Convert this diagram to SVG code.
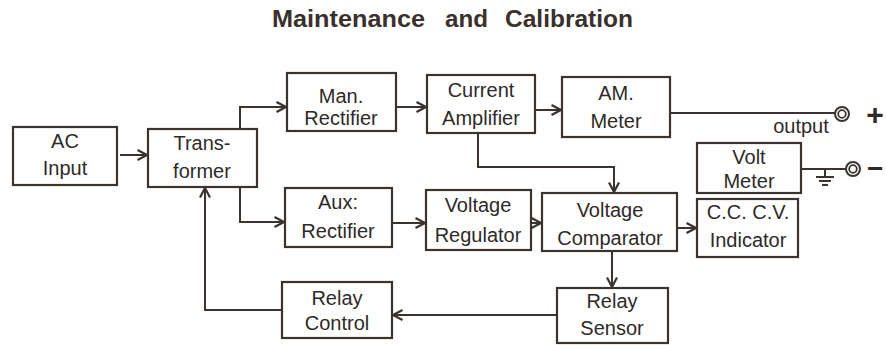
<svg xmlns="http://www.w3.org/2000/svg" width="886" height="345" viewBox="0 0 886 345">
  <style>
    .box { fill: none; stroke: #3b3330; stroke-width: 2.2; }
    .lbl { font-family: "Liberation Sans", Arial, sans-serif; font-size: 20px; fill: #2e2a28; text-anchor: middle; }
    .wire { fill: none; stroke: #3b3330; stroke-width: 2; }
    .arr { marker-end: url(#ah); }
    .title { font-family: "Liberation Sans", Arial, sans-serif; font-size: 24px; font-weight: bold; fill: #3a302c; }
    .sym { font-family: "Liberation Sans", Arial, sans-serif; font-weight: bold; fill: #2e2a28; }
  </style>
  <defs>
    <marker id="ah" markerUnits="userSpaceOnUse" markerWidth="12" markerHeight="12" viewBox="0 0 12 12" refX="10.5" refY="6" orient="auto">
      <path d="M1,1 L10.5,6 L1,11" fill="none" stroke="#3b3330" stroke-width="2.2"/>
    </marker>
  </defs>
  <rect width="886" height="345" fill="#ffffff"/>

  <g id="title">
    <text class="title" x="272" y="27" textLength="153" lengthAdjust="spacingAndGlyphs">Maintenance</text>
    <text class="title" x="445" y="27" textLength="43" lengthAdjust="spacingAndGlyphs">and</text>
    <text class="title" x="505" y="27" textLength="128" lengthAdjust="spacingAndGlyphs">Calibration</text>
  </g>

  <g id="ac-input">
    <rect class="box" x="13" y="127" width="104" height="58"/>
    <text class="lbl" x="65" y="148">AC</text>
    <text class="lbl" x="65" y="175">Input</text>
  </g>
  <g id="transformer">
    <rect class="box" x="148" y="129" width="109" height="58"/>
    <text class="lbl" x="202" y="150">Trans-</text>
    <text class="lbl" x="202" y="178">former</text>
  </g>
  <g id="man-rectifier">
    <rect class="box" x="287" y="73" width="109" height="58"/>
    <text class="lbl" x="341" y="103">Man.</text>
    <text class="lbl" x="341" y="125">Rectifier</text>
  </g>
  <g id="current-amplifier">
    <rect class="box" x="427" y="75" width="108" height="58"/>
    <text class="lbl" x="481" y="97">Current</text>
    <text class="lbl" x="481" y="125">Amplifier</text>
  </g>
  <g id="am-meter">
    <rect class="box" x="562" y="77" width="108" height="60"/>
    <text class="lbl" x="616" y="100">AM.</text>
    <text class="lbl" x="616" y="128">Meter</text>
  </g>
  <g id="volt-meter">
    <rect class="box" x="697" y="143" width="104" height="50"/>
    <text class="lbl" x="749" y="164">Volt</text>
    <text class="lbl" x="749" y="188">Meter</text>
  </g>
  <g id="cc-cv-indicator">
    <rect class="box" x="697" y="199" width="101" height="58"/>
    <text class="lbl" x="748" y="219">C.C. C.V.</text>
    <text class="lbl" x="748" y="247">Indicator</text>
  </g>
  <g id="aux-rectifier">
    <rect class="box" x="285" y="188" width="107" height="59"/>
    <text class="lbl" x="338" y="209">Aux:</text>
    <text class="lbl" x="338" y="238">Rectifier</text>
  </g>
  <g id="voltage-regulator">
    <rect class="box" x="426" y="190" width="105" height="60"/>
    <text class="lbl" x="478" y="212">Voltage</text>
    <text class="lbl" x="478" y="242">Regulator</text>
  </g>
  <g id="voltage-comparator">
    <rect class="box" x="542" y="193" width="135" height="58"/>
    <text class="lbl" x="610" y="217">Voltage</text>
    <text class="lbl" x="610" y="245">Comparator</text>
  </g>
  <g id="relay-sensor">
    <rect class="box" x="557" y="288" width="111" height="55"/>
    <text class="lbl" x="612" y="308">Relay</text>
    <text class="lbl" x="612" y="335">Sensor</text>
  </g>
  <g id="relay-control">
    <rect class="box" x="282" y="282" width="110" height="56"/>
    <text class="lbl" x="337" y="305">Relay</text>
    <text class="lbl" x="337" y="330">Control</text>
  </g>

  <g id="output-plus">
    <circle cx="842" cy="114" r="7" fill="none" stroke="#3b3330" stroke-width="2"/>
    <circle cx="842" cy="114" r="3.8" fill="none" stroke="#3b3330" stroke-width="1.8"/>
    <text class="lbl" x="801" y="133">output</text>
    <text class="sym" x="875" y="125" font-size="30" text-anchor="middle">+</text>
  </g>
  <g id="output-minus">
    <circle cx="853" cy="169" r="7" fill="none" stroke="#3b3330" stroke-width="2"/>
    <circle cx="853" cy="169" r="3.8" fill="none" stroke="#3b3330" stroke-width="1.8"/>
    <text class="sym" x="867" y="178" font-size="28">−</text>
  </g>
  <g id="ground" stroke="#3b3330" stroke-width="2" fill="none">
    <path d="M825,169 V177"/>
    <path d="M816,177 H834"/>
    <path d="M819,181 H831"/>
    <path d="M822,185 H828"/>
  </g>

  <g id="connectors">
    <path class="wire arr" d="M120,155 H147"/>
    <path class="wire arr" d="M240,129 V107 H286"/>
    <path class="wire arr" d="M396,107 H426"/>
    <path class="wire arr" d="M535,110 H561"/>
    <path class="wire" d="M670,113 H835"/>
    <path class="wire arr" d="M478,133 V167 H614 V192"/>
    <path class="wire arr" d="M240,187 V222 H284"/>
    <path class="wire arr" d="M392,223 H425"/>
    <path class="wire arr" d="M531,223 H541"/>
    <path class="wire arr" d="M677,228 H696"/>
    <path class="wire arr" d="M612,251 V287"/>
    <path class="wire arr" d="M557,315 H393"/>
    <path class="wire arr" d="M282,310 H205 V188"/>
    <path class="wire" d="M801,169 H846"/>
  </g>
</svg>
